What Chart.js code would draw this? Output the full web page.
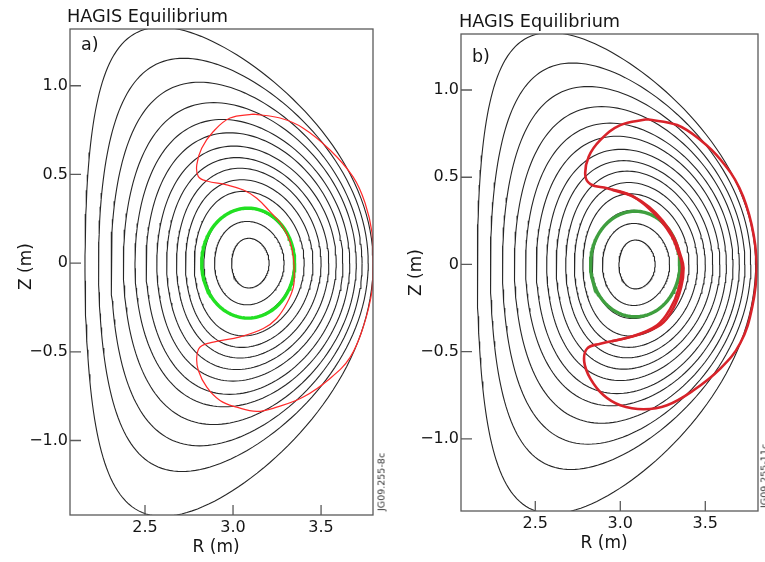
<!DOCTYPE html>
<html><head><meta charset="utf-8">
<script src="https://cdn.jsdelivr.net/npm/chart.js@4.4.1/dist/chart.umd.min.js"></script>
<style>
html,body{margin:0;padding:0;background:#fff;overflow:hidden;width:765px;height:562px;position:relative}
.box{position:absolute;top:0;height:562px}
.t{position:absolute;font-family:'DejaVu Sans',sans-serif;color:#151515;white-space:nowrap;line-height:normal}
.v{position:absolute;font-family:'DejaVu Sans',sans-serif;color:#333;white-space:nowrap;font-size:9.5px;transform:translate(-50%,-50%) rotate(-90deg)}
</style></head><body>
<div class="box" style="left:0;width:385px"><canvas id="ca" width="385" height="562" style="width:385px;height:562px"></canvas></div>
<div class="box" style="left:390px;width:375px"><canvas id="cb" width="375" height="562" style="width:375px;height:562px"></canvas></div>
<div class="t" style="left:67px;top:5.5px;font-size:17.7px">HAGIS Equilibrium</div>
<div class="t" style="left:459px;top:11px;font-size:17.7px">HAGIS Equilibrium</div>
<div class="t" style="left:81px;top:34px;font-size:17.5px">a)</div>
<div class="t" style="left:472px;top:46px;font-size:17.5px">b)</div>
<div class="v" style="left:381px;top:482px">JG09.255-8c</div>
<div class="v" style="left:764px;top:476px">JG09.255-11c</div>
<script>
// ---- axis ticks ----
const xTicks = [2.5, 3.0, 3.5];
const xTickLabels = ['2.5', '3.0', '3.5'];
const yTicks = [1.0, 0.5, 0, -0.5, -1.0];
const yTickLabels = ['1.0', '0.5', '0', '\u22120.5', '\u22121.0'];

// ---- flux surfaces of the equilibrium (inner -> outer) ----
const surfRin  = [2.992, 2.895, 2.834, 2.780, 2.730, 2.679, 2.623, 2.567, 2.506, 2.443, 2.377, 2.307, 2.236, 2.159];
const surfRout = [3.205, 3.290, 3.348, 3.404, 3.454, 3.500, 3.544, 3.586, 3.624, 3.663, 3.700, 3.733, 3.768, 3.796];
const surfRtop = [3.090, 3.080, 3.075, 3.060, 3.050, 3.040, 3.020, 3.005, 2.980, 2.940, 2.890, 2.810, 2.720, 2.590];
const surfZtop = [0.140, 0.235, 0.310, 0.405, 0.470, 0.535, 0.595, 0.660, 0.735, 0.810, 0.905, 1.020, 1.155, 1.330];
const surfRbot = [3.090, 3.080, 3.075, 3.060, 3.050, 3.040, 3.020, 3.000, 2.980, 2.950, 2.890, 2.810, 2.710, 2.600];
const surfZbot = [-0.140, -0.235, -0.310, -0.410, -0.475, -0.535, -0.600, -0.665, -0.740, -0.810, -0.910, -1.030, -1.175, -1.428];

// ---- green (passing) orbits: Rin, Rout, Rtop, Ztop, Rbot, Zbot ----
const greenA = [2.822, 3.350, 3.085, 0.310, 3.085, -0.310];
const greenB = [2.825, 3.350, 3.088, 0.305, 3.088, -0.300];

// ---- red orbits, points read around the curve ----
const redA_R = [3.115, 3.267, 3.399, 3.551, 3.682, 3.750, 3.790, 3.795, 3.790, 3.739, 3.665, 3.551, 3.399, 3.248, 3.135, 3.021, 2.926, 2.851, 2.803, 2.794, 2.813, 2.888, 3.040, 3.172, 3.248, 3.305, 3.343, 3.347, 3.343, 3.324, 3.277, 3.210, 3.135, 3.059, 2.964, 2.851, 2.803, 2.794, 2.822, 2.888, 2.983];
const redA_Z = [0.840, 0.818, 0.761, 0.638, 0.486, 0.339, 0.169, 0.017, -0.153, -0.362, -0.531, -0.650, -0.755, -0.812, -0.836, -0.812, -0.774, -0.699, -0.605, -0.529, -0.473, -0.445, -0.416, -0.369, -0.312, -0.228, -0.134, -0.040, 0.027, 0.120, 0.215, 0.290, 0.366, 0.412, 0.441, 0.463, 0.488, 0.554, 0.648, 0.742, 0.818];
const redB_R = [3.157, 3.334, 3.471, 3.590, 3.700, 3.772, 3.802, 3.776, 3.706, 3.588, 3.431, 3.275, 3.137, 3.000, 2.902, 2.824, 2.788, 2.804, 2.882, 3.059, 3.216, 3.294, 3.343, 3.363, 3.343, 3.304, 3.235, 3.157, 3.059, 2.922, 2.824, 2.794, 2.814, 2.882, 3.000];
const redB_Z = [0.832, 0.799, 0.713, 0.600, 0.440, 0.230, -0.005, -0.244, -0.450, -0.597, -0.721, -0.807, -0.830, -0.807, -0.750, -0.654, -0.559, -0.483, -0.454, -0.415, -0.348, -0.253, -0.139, -0.010, 0.064, 0.159, 0.255, 0.331, 0.398, 0.437, 0.461, 0.513, 0.618, 0.713, 0.799];
// second (doubled) strand of the red orbit in b, along the inner side
const redB2_R = [2.950, 3.070, 3.170, 3.250, 3.318, 3.355, 3.372, 3.358, 3.312, 3.238, 3.080, 2.950];
const redB2_Z = [0.428, 0.392, 0.330, 0.250, 0.150, 0.050, -0.020, -0.130, -0.250, -0.345, -0.410, -0.440];

const FONT = "'DejaVu Sans', 'Liberation Sans', sans-serif";

// closed D-shaped outline through the read extremes (table built for the library)
function dShape(rin, rout, rtop, ztop, rbot, zbot) {
  const r0 = (rin + rout) / 2, a = (rout - rin) / 2;
  const clamp = v => Math.max(-0.98, Math.min(0.98, v));
  const du = Math.asin(clamp((r0 - rtop) / a));
  const dl = Math.asin(clamp((r0 - rbot) / a));
  const n = 180, pts = [];
  for (let i = 0; i <= n; i++) {
    const th = 2 * Math.PI * i / n;
    const s = Math.sin(th);
    const up = s >= 0;
    const d = up ? du : dl;
    pts.push({x: r0 + a * Math.cos(th + d * s), y: up ? ztop * s : -zbot * s});
  }
  return pts;
}
function toPts(rs, zs, close) {
  const p = rs.map((r, i) => ({x: r, y: zs[i]}));
  if (close) p.push({x: rs[0], y: zs[0]});
  return p;
}

const framePlugin = {
  id: 'frame',
  afterDraw(chart) {
    const {ctx, chartArea: ca, scales: {x, y}} = chart;
    ctx.save();
    ctx.strokeStyle = '#5a5a5a';
    ctx.lineWidth = 1.3;
    ctx.strokeRect(ca.left, ca.top, ca.right - ca.left, ca.bottom - ca.top);
    ctx.beginPath();
    xTicks.forEach(v => { const px = x.getPixelForValue(v); ctx.moveTo(px, ca.bottom); ctx.lineTo(px, ca.bottom - 10); });
    yTicks.forEach(v => { const py = y.getPixelForValue(v); ctx.moveTo(ca.left, py); ctx.lineTo(ca.left + 11, py); });
    ctx.stroke();
    ctx.restore();
  }
};

function makeChart(id, c) {
  const datasets = [];
  datasets.push({data: toPts(c.redR, c.redZ, true), borderColor: c.redColor, borderWidth: c.redWidth, tension: 0.4});
  if (c.red2R) datasets.push({data: toPts(c.red2R, c.red2Z, false), borderColor: c.redColor, borderWidth: c.redWidth, tension: 0.4});
  datasets.push({data: dShape(...c.green), borderColor: c.greenColor, borderWidth: 3.4, tension: 0});
  for (let i = 0; i < surfRin.length; i++) {
    datasets.push({data: dShape(surfRin[i], surfRout[i], surfRtop[i], surfZtop[i], surfRbot[i], surfZbot[i]),
      borderColor: '#262626', borderWidth: 1.1, tension: 0});
  }
  datasets.forEach(d => { d.showLine = true; d.pointRadius = 0; d.fill = false; d.clip = 0; });
  new Chart(document.getElementById(id), {
    type: 'scatter',
    data: {datasets},
    options: {
      responsive: false, animation: false, events: [],
      layout: {padding: {top: c.padTop, right: c.padRight, left: 0, bottom: 0}},
      plugins: {legend: {display: false}, tooltip: {enabled: false}},
      scales: {
        x: {
          type: 'linear', min: c.xMin, max: c.xMax,
          afterFit(s) { s.height = c.xAxisH; },
          afterBuildTicks(s) { s.ticks = xTicks.map(v => ({value: v})); },
          grid: {display: false, drawTicks: false, tickLength: 0}, border: {display: false},
          ticks: {callback: v => xTickLabels[xTicks.indexOf(v)], font: {family: FONT, size: 16}, color: '#151515', padding: 3, maxRotation: 0, autoSkip: false},
          title: {display: true, text: 'R (m)  ', font: {family: FONT, size: 17}, color: '#151515', padding: {top: 0, bottom: c.xTitlePad}}
        },
        y: {
          type: 'linear', min: c.yMin, max: c.yMax,
          afterFit(s) { s.width = c.yAxisW; },
          afterBuildTicks(s) { s.ticks = yTicks.map(v => ({value: v})); },
          grid: {display: false, drawTicks: false, tickLength: 0}, border: {display: false},
          ticks: {callback: v => yTickLabels[yTicks.indexOf(v)], font: {family: FONT, size: 16}, color: '#151515', padding: 2, autoSkip: false},
          title: {display: true, text: c.yTitle, font: {family: FONT, size: 17}, color: '#151515', padding: {top: 16, bottom: 0}}
        }
      }
    },
    plugins: [framePlugin]
  });
}

makeChart('ca', {xMin: 2.074, xMax: 3.795, yMin: -1.42, yMax: 1.32, padTop: 29, padRight: 12, xAxisH: 47, yAxisW: 70, xTitlePad: 4, yTitle: '  Z (m)',
  redR: redA_R, redZ: redA_Z, redColor: '#ff2a2a', redWidth: 1.2, green: greenA, greenColor: '#22e022'});
makeChart('cb', {xMin: 2.063, xMax: 3.81, yMin: -1.413, yMax: 1.321, padTop: 34, padRight: 7, xAxisH: 51, yAxisW: 71, xTitlePad: 8, yTitle: 'Z (m)',
  redR: redB_R, redZ: redB_Z, red2R: redB2_R, red2Z: redB2_Z, redColor: '#d8232a', redWidth: 2.6, green: greenB, greenColor: '#3f9f3f'});
</script>
</body></html>
